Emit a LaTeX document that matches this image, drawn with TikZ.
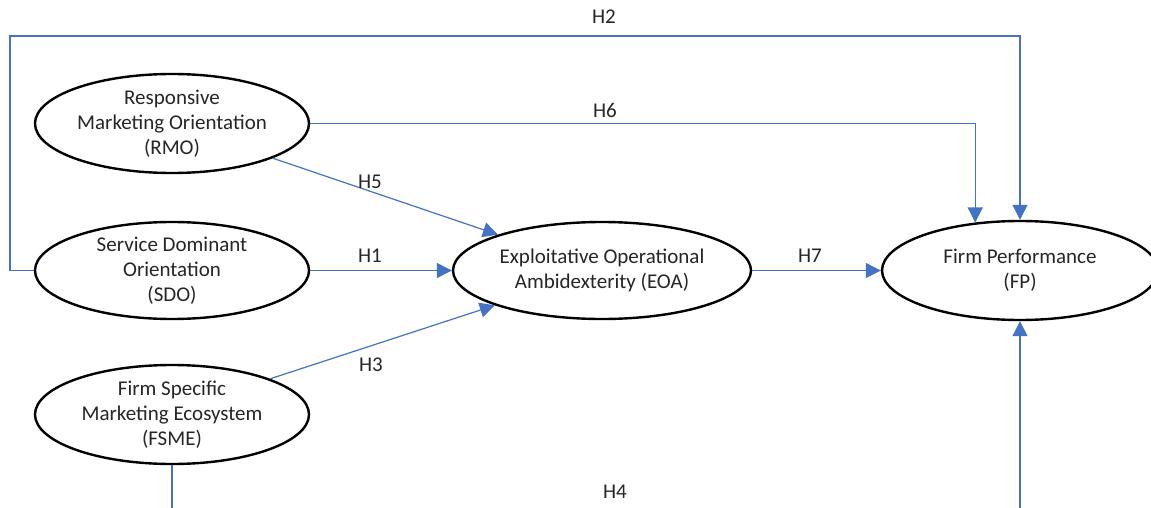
\documentclass[tikz,border=0pt]{standalone}
\usepackage{fontspec}
\setmainfont{Carlito}
\usetikzlibrary{shapes.geometric,arrows.meta}
\definecolor{lnblue}{HTML}{4472C4}
\definecolor{txtgray}{HTML}{262626}
\tikzset{
  construct/.style={ellipse,draw=black,line width=2.4pt,inner sep=0pt,align=center,
    text=txtgray,font=\fontsize{21}{25}\selectfont},
  link/.style={draw=lnblue,line width=1.2pt,-{Triangle[length=15pt,width=15pt]}},
  hlabel/.style={text=txtgray,font=\fontsize{21}{25}\selectfont,inner sep=0pt}
}
\begin{document}
\begin{tikzpicture}[x=1pt,y=-1pt]
\useasboundingbox (0,0) rectangle (1151,508);
\clip (0,0) rectangle (1151,508);
\fill[white] (0,0) rectangle (1151,508);
\node[construct,minimum width=274pt,minimum height=99pt] (RMO) at (172,123.5) {Responsive\\Marketing Orientation\\(RMO)};
\node[construct,minimum width=274pt,minimum height=97pt] (SDO) at (172,270.5) {Service Dominant\\Orientation\\(SDO)};
\node[construct,minimum width=274pt,minimum height=99pt] (FSME) at (172,414.5) {Firm Specific\\Marketing Ecosystem\\(FSME)};
\node[construct,minimum width=298pt,minimum height=97pt] (EOA) at (602,270.5) {Exploitative Operational\\Ambidexterity (EOA)};
\node[construct,minimum width=276pt,minimum height=99pt] (FP) at (1020,270.5) {Firm Performance\\(FP)};
\coordinate (h2c) at (10,36);
\coordinate (h4c) at (1020,540);
\draw[link] (SDO.west) -| (h2c) -| (FP.north);
\draw[link] (RMO.east) -| (FP.133);
\draw[link] (RMO.-19) -- (EOA.161);
\draw[link] (SDO.east) -- (EOA.west);
\draw[link] (FSME.20) -- (EOA.198);
\draw[link] (EOA.east) -- (FP.west);
\draw[link] (FSME.south) |- (h4c) -- (FP.south);
\node[hlabel] (lH2) at (604,17) {H2};
\node[hlabel] (lH6) at (605,110) {H6};
\node[hlabel] (lH5) at (370,182) {H5};
\node[hlabel] (lH1) at (370,256) {H1};
\node[hlabel] (lH3) at (371,365) {H3};
\node[hlabel] (lH7) at (810,256) {H7};
\node[hlabel] (lH4) at (615,492) {H4};
\end{tikzpicture}
\end{document}
